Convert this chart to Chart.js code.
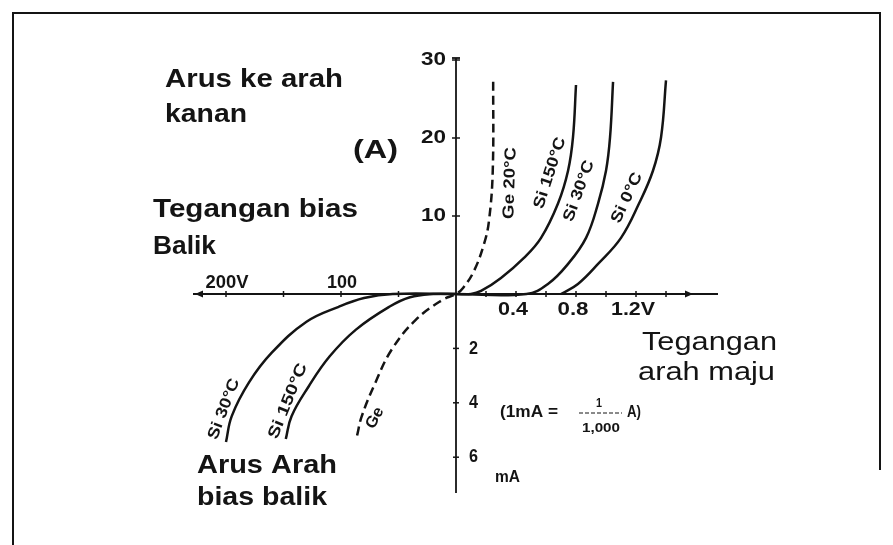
<!DOCTYPE html>
<html><head><meta charset="utf-8">
<script src="https://cdn.jsdelivr.net/npm/chart.js@4.4.1/dist/chart.umd.min.js"></script>
<style>html,body{margin:0;padding:0;background:#fff}#wrap{width:893px;height:545px;position:relative}</style>
</head><body><div id="wrap"><canvas id="c" width="893" height="545"></canvas></div>
<script>
// ---- Data (physical units) ----
// Forward bias: volts (V) vs amperes (A); reverse bias: volts (magnitude) vs milliamperes (mA)
const geFwdV   = [0, 0.047, 0.12, 0.187, 0.22, 0.245, 0.248];
const geFwdA   = [0, 0.77, 2.96, 6.43, 9.4, 15.8, 27.8];
const geRevV   = [86, 82, 70, 56, 35, 12, 0];
const geRevMA  = [5.2, 4.5, 3.25, 2.05, 0.95, 0.22, 0];

const si150FwdV  = [0, 0.1, 0.167, 0.3, 0.453, 0.567, 0.68, 0.747, 0.78, 0.8];
const si150FwdA  = [0, 0, 0.39, 2.06, 4.63, 7.2, 11.6, 15.8, 20.1, 26.8];
const si150RevV  = [148, 143, 128, 110, 87, 58, 40, 20, 0];
const si150RevMA = [5.33, 4.49, 3.39, 2.3, 1.31, 0.47, 0.12, 0, 0];

const si30FwdV  = [0, 0.47, 0.613, 0.747, 0.867, 0.947, 1.0, 1.027, 1.047];
const si30FwdA  = [0, 0, 1.29, 3.86, 7.2, 11.6, 15.8, 20.1, 27.2];
const si30RevV  = [200, 195, 180, 160, 130, 102, 80, 55, 0];
const si30RevMA = [5.44, 4.49, 3.25, 2.15, 1.02, 0.47, 0.15, 0, 0];

const si0FwdV = [0.7, 0.813, 0.947, 1.1, 1.22, 1.313, 1.367, 1.4];
const si0FwdA = [0, 1.29, 3.86, 7.2, 11.6, 15.8, 20.1, 27.4];

// Tick values and labels
const xFwdTicks = [0.2, 0.4, 0.6, 0.8, 1.0, 1.2, 1.4];
const xFwdLabelVals = [0.4, 0.8, 1.2];
const xFwdLabels = ['0.4', '0.8', '1.2V'];
const xRevTicks = [50, 100, 150, 200];
const xRevLabelVals = [100, 200];
const xRevLabels = ['100', '200V'];
const yFwdTicks = [10, 20, 30];
const yFwdLabels = ['10', '20', '30'];
const yRevTicks = [2, 4, 6];
const yRevLabels = ['2', '4', '6'];

const curveLabels = ['Ge 20°C', 'Si 150°C', 'Si 30°C', 'Si 0°C', 'Si 30°C', 'Si 150°C', 'Ge'];

// ---- Piecewise axis mapping (each quadrant has its own unit) ----
const FWD_V = 150, REV_V = 1.15, FWD_A = 7.8, REV_MA = 27.2;
const fx = v => v * FWD_V;
const rx = v => -v * REV_V;
const fy = a => a * FWD_A;
const ry = m => -m * REV_MA;

function build(revV, revMA, fwdV, fwdA) {
  const pts = [];
  if (revV) revV.forEach((v, i) => pts.push({x: rx(v), y: ry(revMA[i])}));
  if (fwdV) fwdV.forEach((v, i) => {
    const p = {x: fx(v), y: fy(fwdA[i])};
    const last = pts[pts.length - 1];
    if (!last || last.x !== p.x || last.y !== p.y) pts.push(p);
  });
  return pts;
}

const INK = '#141414';
const base = {showLine: true, pointRadius: 0, borderColor: INK, borderWidth: 2.5,
  tension: 0.4, fill: false, clip: false};

const datasets = [
  Object.assign({}, base, {label: 'Ge', data: build(geRevV, geRevMA, geFwdV, geFwdA), borderDash: [9, 5]}),
  Object.assign({}, base, {label: 'Si 150°C', data: build(si150RevV, si150RevMA, si150FwdV, si150FwdA)}),
  Object.assign({}, base, {label: 'Si 30°C', data: build(si30RevV, si30RevMA, si30FwdV, si30FwdA)}),
  Object.assign({}, base, {label: 'Si 0°C', data: build(null, null, si0FwdV, si0FwdA)})
];

function drawFit(ctx, s, x, y, w, font, align, baseLine, rot) {
  ctx.save();
  ctx.font = font; ctx.textBaseline = baseLine || 'alphabetic'; ctx.textAlign = 'left';
  const m = ctx.measureText(s).width;
  ctx.translate(x, y);
  if (rot) ctx.rotate(rot);
  ctx.scale(w / m, 1);
  const ox = align === 'center' ? -m / 2 : align === 'right' ? -m : 0;
  ctx.fillStyle = INK;
  ctx.fillText(s, ox, 0);
  ctx.restore();
}

const BIG = 'bold 26px "Liberation Sans", Arial, sans-serif';
const REG = '26px "Liberation Sans", Arial, sans-serif';
const TICK = 'bold 19px "Liberation Sans Narrow", "Liberation Sans", Arial, sans-serif';
const LAB = 'bold 16px "Liberation Sans Narrow", "Liberation Sans", Arial, sans-serif';

const decor = {
  id: 'decor',
  beforeDatasetsDraw(chart) {
    const ctx = chart.ctx, xs = chart.scales.x, ys = chart.scales.y;
    const X = v => xs.getPixelForValue(v), Y = v => ys.getPixelForValue(v);
    const ox = X(0), oy = Y(0);
    ctx.save();
    ctx.strokeStyle = INK; ctx.fillStyle = INK; ctx.lineWidth = 2;
    // frame
    ctx.beginPath();
    ctx.moveTo(13, 545); ctx.lineTo(13, 13); ctx.lineTo(880, 13); ctx.lineTo(880, 470);
    ctx.stroke();
    // x axis
    ctx.lineWidth = 1.8;
    ctx.beginPath(); ctx.moveTo(xs.left, oy); ctx.lineTo(xs.right, oy); ctx.stroke();
    // y axis
    ctx.beginPath(); ctx.moveTo(ox, ys.top); ctx.lineTo(ox, ys.bottom); ctx.stroke();
    ctx.beginPath(); ctx.moveTo(ox - 4, ys.top); ctx.lineTo(ox + 4, ys.top); ctx.stroke();
    // arrowheads
    const ar = (x, dir) => { ctx.beginPath(); ctx.moveTo(x, oy); ctx.lineTo(x - 8 * dir, oy - 3.5); ctx.lineTo(x - 8 * dir, oy + 3.5); ctx.closePath(); ctx.fill(); };
    ar(xs.left + 2, -1);
    ar(X(fx(1.58)), 1);
    // ticks
    ctx.lineWidth = 1.5;
    xFwdTicks.forEach(v => { const p = X(fx(v)); ctx.beginPath(); ctx.moveTo(p, oy - 3); ctx.lineTo(p, oy + 3); ctx.stroke(); });
    xRevTicks.forEach(v => { const p = X(rx(v)); ctx.beginPath(); ctx.moveTo(p, oy - 3); ctx.lineTo(p, oy + 3); ctx.stroke(); });
    yFwdTicks.forEach(v => { const p = Y(fy(v)); ctx.beginPath(); ctx.moveTo(ox - 4, p); ctx.lineTo(ox + 4, p); ctx.stroke(); });
    yRevTicks.forEach(v => { const p = Y(ry(v)); ctx.beginPath(); ctx.moveTo(ox - 3, p); ctx.lineTo(ox + 3, p); ctx.stroke(); });
    ctx.restore();

    // tick labels
    const xfw = [30, 31, 44];
    xFwdLabelVals.forEach((v, i) => drawFit(ctx, xFwdLabels[i], X(fx(v)) - 3, oy + 21, xfw[i], TICK, 'center'));
    const xrw = [30, 43];
    xRevLabelVals.forEach((v, i) => drawFit(ctx, xRevLabels[i], X(rx(v)) + 1, oy - 6, xrw[i], TICK, 'center'));
    yFwdTicks.forEach((v, i) => drawFit(ctx, yFwdLabels[i], ox - 10, Y(fy(v)), 25, TICK, 'right', 'middle'));
    yRevTicks.forEach((v, i) => drawFit(ctx, yRevLabels[i], ox + 13, Y(ry(v)), 9, TICK, 'left', 'middle'));
  },
  afterDraw(chart) {
    const ctx = chart.ctx;
    // annotation texts
    drawFit(ctx, 'Arus ke arah', 165, 87, 178, BIG, 'left');
    drawFit(ctx, 'kanan', 165, 122, 82, BIG, 'left');
    drawFit(ctx, '(A)', 353, 158, 45, BIG, 'left');
    drawFit(ctx, 'Tegangan bias', 153, 217, 205, BIG, 'left');
    drawFit(ctx, 'Balik', 153, 254, 63, BIG, 'left');
    drawFit(ctx, 'Arus Arah', 197, 473, 140, BIG, 'left');
    drawFit(ctx, 'bias balik', 197, 505, 130, BIG, 'left');
    drawFit(ctx, 'Tegangan', 642, 350, 135, REG, 'left');
    drawFit(ctx, 'arah maju', 638, 380, 137, REG, 'left');
    // unit note
    drawFit(ctx, '(1mA =', 500, 417, 58, 'bold 17px "Liberation Sans", Arial', 'left');
    drawFit(ctx, '1', 599, 407, 6, 'bold 12px "Liberation Sans", Arial', 'center');
    ctx.save(); ctx.strokeStyle = INK; ctx.lineWidth = 1; ctx.setLineDash([4, 2]);
    ctx.beginPath(); ctx.moveTo(579, 413); ctx.lineTo(622, 413); ctx.stroke(); ctx.restore();
    drawFit(ctx, '1,000', 601, 432, 38, 'bold 13px "Liberation Sans", Arial', 'center');
    drawFit(ctx, 'A)', 627, 417, 14, 'bold 16px "Liberation Sans", Arial', 'left');
    drawFit(ctx, 'mA', 495, 482, 25, 'bold 16px "Liberation Sans", Arial', 'left');
    // curve labels (rotated along curves)
    const place = [
      [510, 183, 72, -88], [550, 173, 74, -72], [579, 191, 64, -70], [627, 198, 54, -65],
      [224, 409, 64, -69], [288, 401, 80, -68], [375, 418, 22, -62]
    ];
    place.forEach((p, i) => drawFit(ctx, curveLabels[i], p[0], p[1], p[2], LAB, 'center', 'middle', p[3] * Math.PI / 180));
  }
};

new Chart(document.getElementById('c'), {
  type: 'scatter',
  data: {datasets},
  options: {
    responsive: false, animation: false,
    layout: {padding: {left: 193, right: 175, top: 58, bottom: 52}},
    plugins: {legend: {display: false}, tooltip: {enabled: false}},
    scales: {
      x: {type: 'linear', display: false, min: -263, max: 262},
      y: {type: 'linear', display: false, min: -199, max: 236}
    }
  },
  plugins: [decor]
});
</script></body></html>
